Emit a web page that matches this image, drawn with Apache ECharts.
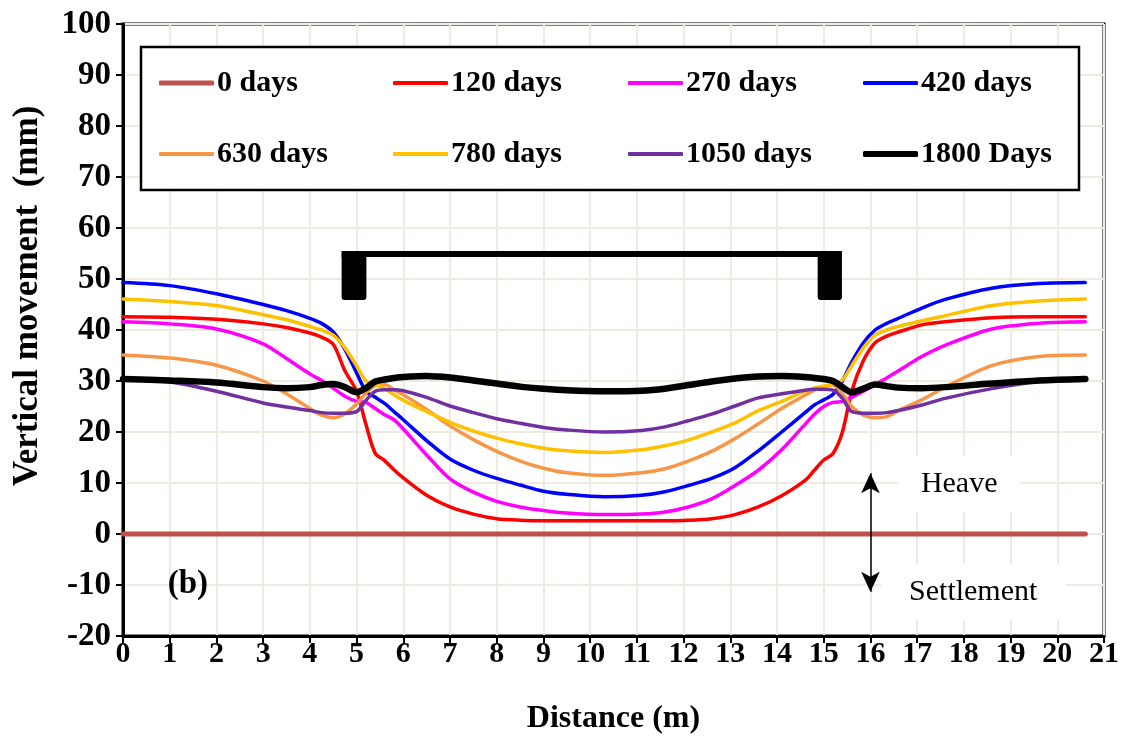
<!DOCTYPE html>
<html><head><meta charset="utf-8">
<script src="https://cdn.jsdelivr.net/npm/echarts@6/dist/echarts.min.js"></script>
<style>html,body{margin:0;padding:0;background:#fff}#c{width:1127px;height:740px}</style>
</head><body><div id="c"></div>
<script>
// Distance (m) sample positions shared by all curves
const xs = [0,1,2,3,3.5,4,4.25,4.5,4.75,5,5.2,5.4,5.6,5.8,6,6.5,7,7.5,8,8.5,9,9.5,10.3,11.1,11.6,12.1,12.6,13.1,13.6,14.1,14.6,14.8,15,15.2,15.4,15.6,15.85,16.1,16.35,16.6,17.1,17.6,18.6,19.6,20.6];

const zeroX = [0, 20.6];
const zeroY = [0, 0];

const d120  = [42.6,42.5,42.1,41.2,40.5,39.4,38.6,37.2,32.0,28.0,21.5,15.8,14.4,12.6,11.0,7.6,5.3,3.9,3.0,2.7,2.6,2.6,2.6,2.6,2.6,2.7,3.0,3.8,5.3,7.5,10.5,12.5,14.5,15.8,20.0,28.0,34.0,37.5,38.8,39.6,41.0,41.6,42.4,42.6,42.6];
const d270  = [41.6,41.2,40.2,37.3,34.4,31.4,30.1,28.6,27.0,26.0,25.8,24.6,23.4,22.4,20.6,15.5,10.8,8.2,6.4,5.3,4.6,4.1,3.8,3.9,4.3,5.3,6.9,9.5,12.5,16.5,21.5,23.5,25.0,25.8,26.0,26.8,28.0,29.3,30.6,32.0,34.8,37.0,40.2,41.3,41.6];
const d420  = [49.3,48.7,47.1,45.0,43.8,42.3,41.3,39.6,36.2,31.6,28.0,26.8,25.6,24.0,22.4,18.3,14.7,12.5,10.9,9.6,8.4,7.8,7.3,7.6,8.3,9.5,10.9,13.0,16.3,20.0,23.8,25.3,26.3,27.4,30.0,33.7,37.5,40.0,41.3,42.3,44.3,46.0,48.2,49.1,49.3];
const d630  = [35.1,34.5,33.1,30.0,27.5,24.6,23.3,22.8,23.6,25.5,27.6,29.1,29.3,28.3,27.3,24.4,21.2,18.5,16.2,14.3,12.9,12.0,11.5,12.0,12.8,14.3,16.2,18.7,21.6,24.6,27.2,28.2,28.9,29.2,27.5,25.0,23.3,22.8,23.0,24.2,26.3,28.8,33.0,34.8,35.1];
const d780  = [46.1,45.6,44.8,43.0,42.0,40.7,40.0,39.0,36.5,33.0,30.0,29.3,28.5,27.3,26.2,24.0,21.9,20.2,18.8,17.7,16.8,16.3,16.0,16.5,17.3,18.4,20.0,21.8,24.2,26.0,28.0,28.6,29.0,29.4,30.2,33.0,36.5,39.0,40.0,40.7,41.8,42.8,44.8,45.7,46.1];
const d1050 = [30.4,29.8,28.0,25.7,24.9,24.2,23.8,23.7,23.7,24.0,26.2,28.0,28.3,28.3,28.1,26.8,25.1,23.8,22.6,21.7,20.9,20.4,20.0,20.3,21.0,22.2,23.5,25.1,26.7,27.5,28.2,28.4,28.4,28.2,26.6,24.0,23.7,23.7,23.8,24.2,25.3,26.6,28.5,29.9,30.4];
const d1800 = [30.4,30.1,29.7,28.8,28.6,28.8,29.2,29.4,28.8,27.8,28.6,29.9,30.3,30.6,30.8,31.0,30.7,30.1,29.5,28.9,28.5,28.2,28.0,28.1,28.5,29.2,29.9,30.5,30.9,31.0,30.8,30.6,30.4,30.0,28.8,27.8,28.5,29.3,29.0,28.7,28.6,28.8,29.5,30.1,30.4];

const seriesNames = ['0 days','120 days','270 days','420 days','630 days','780 days','1050 days','1800 Days'];
const seriesColors = ['#C0504D','#FF0000','#FF00FF','#0000FF','#F79646','#FFC000','#7030A0','#000000'];
const seriesWidths = [5,3.5,3.5,3.5,3.5,3.5,3.5,6.5];
const legendIconHeights = [5,4,4,4,4,4,4,6];

// footing drawing (data units)
const footBlocksX = [[4.68,5.21],[14.87,15.39]];
const footBarX = [4.68,15.39];
const footTop = 55.5, footBarBottom = 54.3, footBlockBottom = 45.9;

// arrow Heave / Settlement (data units)
const arrowX = 16, arrowTop = 11.9, arrowBottom = -11.3;

const xTicks = {min:0,max:21,interval:1};
const yTicks = {min:-20,max:100,interval:10};

const FONT = 'Liberation Serif';
const chart = echarts.init(document.getElementById('c'), null, {renderer:'canvas'});

const curveData = [null,d120,d270,d420,d630,d780,d1050,d1800];
const series = seriesNames.map((name,i)=>{
  const data = i===0 ? zeroX.map((x,k)=>[x,zeroY[k]]) : xs.map((x,k)=>[x,curveData[i][k]]);
  return {
    name, type:'line', data, smooth: i===0?false:0.3, symbol:'none', showSymbol:false,
    lineStyle:{color:seriesColors[i], width:seriesWidths[i], cap:'round', join:'round'},
    itemStyle:{color:seriesColors[i]},
    z: i===7?5:3, animation:false
  };
});

// footing custom series
series.push({
  type:'custom', name:'footing', z:6, animation:false, silent:true,
  data:[[0]],
  renderItem:(params, api)=>{
    const children = [];
    const pTL = api.coord([footBarX[0], footTop]);
    const pBR = api.coord([footBarX[1], footBarBottom]);
    children.push({type:'rect', shape:{x:pTL[0], y:pTL[1], width:pBR[0]-pTL[0], height:pBR[1]-pTL[1]}, style:{fill:'#000'}});
    footBlocksX.forEach(b=>{
      const a = api.coord([b[0], footTop]);
      const c = api.coord([b[1], footBlockBottom]);
      children.push({type:'rect', shape:{x:a[0], y:a[1], width:c[0]-a[0], height:c[1]-a[1], r:3}, style:{fill:'#000'}});
    });
    return {type:'group', children};
  }
});

// arrow
series.push({
  type:'line', name:'arrow', data:[], silent:true, animation:false,
  markLine:{
    silent:true, animation:false,
    symbol:['arrow','arrow'], symbolSize:[14,20],
    lineStyle:{color:'#000', width:1.5, type:'solid'},
    label:{show:false},
    data:[[{coord:[arrowX,arrowTop]},{coord:[arrowX,arrowBottom]}]]
  }
});

const legendCols = [159,393,628,863];
const legendRows = [66,137];
const legends = seriesNames.map((n,i)=>({
  data:[{name:n, icon:'roundRect', itemStyle:{color:seriesColors[i], borderWidth:0}}],
  left:legendCols[i%4], top:legendRows[Math.floor(i/4)],
  padding:0, itemWidth:55, itemHeight:legendIconHeights[i], itemGap:0, selectedMode:false, z:10,
  textStyle:{fontFamily:FONT, fontWeight:'bold', fontSize:30, color:'#000', lineHeight:34, padding:[0,0,0,-2]}
}));

chart.setOption({
  animation:false,
  backgroundColor:'#fff',
  grid:{left:123,right:23,top:24,bottom:103, show:true, borderColor:'#000', borderWidth:3, containLabel:false},
  legend: legends,
  xAxis:{
    type:'value', min:xTicks.min, max:xTicks.max, interval:xTicks.interval,
    name:'Distance (m)', nameLocation:'middle', nameGap:67,
    nameTextStyle:{fontFamily:FONT, fontWeight:'bold', fontSize:32, color:'#000'},
    axisLine:{show:true, onZero:false, lineStyle:{color:'#000', width:3}},
    axisTick:{show:true, inside:false, length:7, lineStyle:{color:'#000', width:2}},
    axisLabel:{fontFamily:FONT, fontWeight:'bold', fontSize:30, color:'#000', margin:3},
    splitLine:{show:true, lineStyle:{color:'#EEEBE0', width:2}}
  },
  yAxis:{
    type:'value', min:yTicks.min, max:yTicks.max, interval:yTicks.interval,
    axisLine:{show:true, onZero:false, lineStyle:{color:'#000', width:3}},
    axisTick:{show:true, inside:false, length:7, lineStyle:{color:'#000', width:2}},
    axisLabel:{fontFamily:FONT, fontWeight:'bold', fontSize:33, color:'#000', margin:12},
    splitLine:{show:true, lineStyle:{color:'#EEEBE0', width:2}}
  },
  series
});

function px(x,y){ return chart.convertToPixel({gridIndex:0},[x,y]); }
const hv = px(17.9, 9.8), st = px(18.2, -11.35), bl = px(1.39, -9.8);
chart.setOption({
  graphic:[
    {type:'rect', z:1, shape:{x:141, y:47, width:938, height:143}, style:{fill:'#fff', stroke:'#000', lineWidth:2.5}},
    {type:'text', z:3, x:28, y:296, rotation:Math.PI/2, style:{text:'Vertical movement  (mm)', fontFamily:FONT, fontWeight:'bold', fontSize:35, fill:'#000', align:'center', verticalAlign:'middle'}},
    {type:'text', z:3, x:hv[0], y:hv[1], style:{text:'Heave', fontFamily:FONT, fontSize:30, fill:'#000', align:'center', verticalAlign:'middle', backgroundColor:'#fff', padding:[13,23,13,23]}},
    {type:'text', z:3, x:st[0], y:st[1], style:{text:'Settlement', fontFamily:FONT, fontSize:30, fill:'#000', align:'center', verticalAlign:'middle', backgroundColor:'#fff', padding:[13,28,13,28]}},
    {type:'text', z:3, x:bl[0], y:bl[1], style:{text:'(b)', fontFamily:FONT, fontWeight:'bold', fontSize:33, fill:'#000', align:'center', verticalAlign:'middle'}}
  ]
});
</script></body></html>
